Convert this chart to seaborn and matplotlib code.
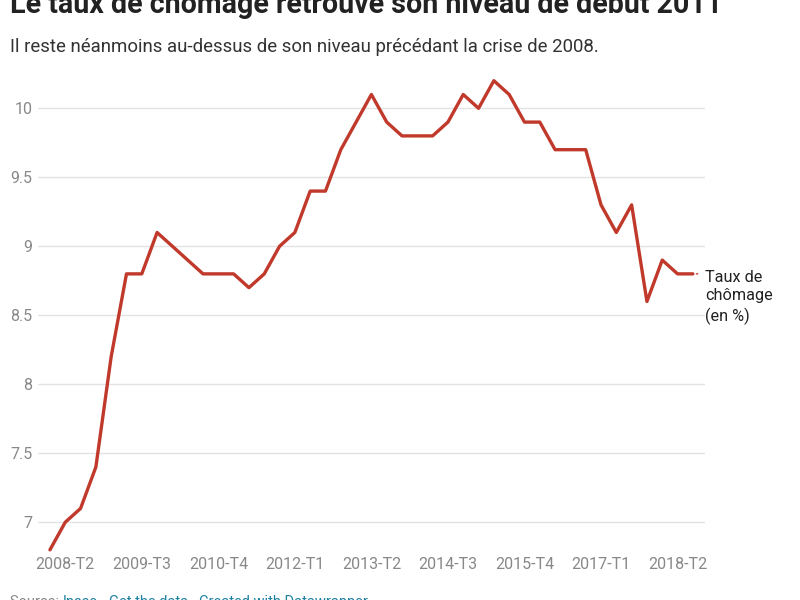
import pandas as pd
import seaborn as sns
import matplotlib.pyplot as plt

# Taux de chomage trimestriel (en %), 2008-T1 -> 2018-T3
quarters = [
    "2008-T1", "2008-T2", "2008-T3", "2008-T4",
    "2009-T1", "2009-T2", "2009-T3", "2009-T4",
    "2010-T1", "2010-T2", "2010-T3", "2010-T4",
    "2011-T1", "2011-T2", "2011-T3", "2011-T4",
    "2012-T1", "2012-T2", "2012-T3", "2012-T4",
    "2013-T1", "2013-T2", "2013-T3", "2013-T4",
    "2014-T1", "2014-T2", "2014-T3", "2014-T4",
    "2015-T1", "2015-T2", "2015-T3", "2015-T4",
    "2016-T1", "2016-T2", "2016-T3", "2016-T4",
    "2017-T1", "2017-T2", "2017-T3", "2017-T4",
    "2018-T1", "2018-T2", "2018-T3",
]
taux = [
    6.8, 7.0, 7.1, 7.4, 8.2, 8.8, 8.8, 9.1, 9.0, 8.9,
    8.8, 8.8, 8.8, 8.7, 8.8, 9.0, 9.1, 9.4, 9.4, 9.7,
    9.9, 10.1, 9.9, 9.8, 9.8, 9.8, 9.9, 10.1, 10.0, 10.2,
    10.1, 9.9, 9.9, 9.7, 9.7, 9.7, 9.3, 9.1, 9.3, 8.6,
    8.9, 8.8, 8.8,
]
xtick_labels = ["2008-T2", "2009-T3", "2010-T4", "2012-T1", "2013-T2",
                "2014-T3", "2015-T4", "2017-T1", "2018-T2"]
yticks = [7, 7.5, 8, 8.5, 9, 9.5, 10]
ytick_labels = ["7", "7.5", "8", "8.5", "9", "9.5", "10"]

df = pd.DataFrame({"pos": range(len(quarters)), "trimestre": quarters, "taux": taux})

sns.set_theme(style="white")
plt.rcParams["font.family"] = ["Roboto", "DejaVu Sans"]

LINE = "#c0392b"
GREY = "#888888"
BLUE = "#1d81a2"

fig = plt.figure(figsize=(8, 6), dpi=100)
ax = fig.add_axes([0.0475, 0.079, 0.8335, 0.798])

sns.lineplot(data=df, x="pos", y="taux", color=LINE, linewidth=2.4, ax=ax)

ax.set_xlim(-0.78, len(quarters) - 1 + 0.78)
ax.set_ylim(6.78, 10.25)

ax.set_yticks(yticks)
ax.set_yticklabels(ytick_labels)
ax.yaxis.grid(True, color="#e3e3e3", linewidth=1)
ax.set_axisbelow(True)

xpos = [quarters.index(q) for q in xtick_labels]
ax.set_xticks(xpos)
ax.set_xticklabels(xtick_labels)

ax.tick_params(axis="both", length=0, labelsize=11.5, labelcolor=GREY)
ax.tick_params(axis="y", pad=4)
ax.tick_params(axis="x", pad=3)
ax.set_xlabel("")
ax.set_ylabel("")
for s in ax.spines.values():
    s.set_visible(False)

# etiquette de fin de ligne
last_x = df["pos"].iloc[-1]
last_y = df["taux"].iloc[-1]
ax.annotate("", xy=(last_x + 0.2, last_y), xytext=(last_x + 0.5, last_y),
            arrowprops=dict(arrowstyle="-", color=LINE, linestyle=(0, (1, 1)), lw=1))
ax.annotate("Taux de\nchômage\n(en %)", xy=(last_x, last_y), xytext=(9, 3),
            textcoords="offset points", ha="left", va="top", fontsize=11.7,
            color="#222222", linespacing=1.3, annotation_clip=False)

# titres
fig.text(0.0125, 0.978, "Le taux de chômage retrouve son niveau de début 2011",
         fontsize=20.6, fontweight="bold", color="#222222", va="baseline")
fig.text(0.0125, 0.914, "Il reste néanmoins au-dessus de son niveau précédant la crise de 2008.",
         fontsize=13.4, color="#333333", va="baseline")

# source (coupee en bas, comme sur l'original)
t = fig.text(0.0125, 0.008, "Source: ", fontsize=10.5, color=GREY, va="top")
for part, col in [("Insee", BLUE), (" · ", GREY), ("Get the data", BLUE),
                  (" · ", GREY), ("Created with Datawrapper", BLUE)]:
    t = ax.annotate(part, xy=(1, 1), xycoords=t, va="top", fontsize=10.5, color=col,
                    annotation_clip=False)

fig.savefig("out.png", dpi=100)
